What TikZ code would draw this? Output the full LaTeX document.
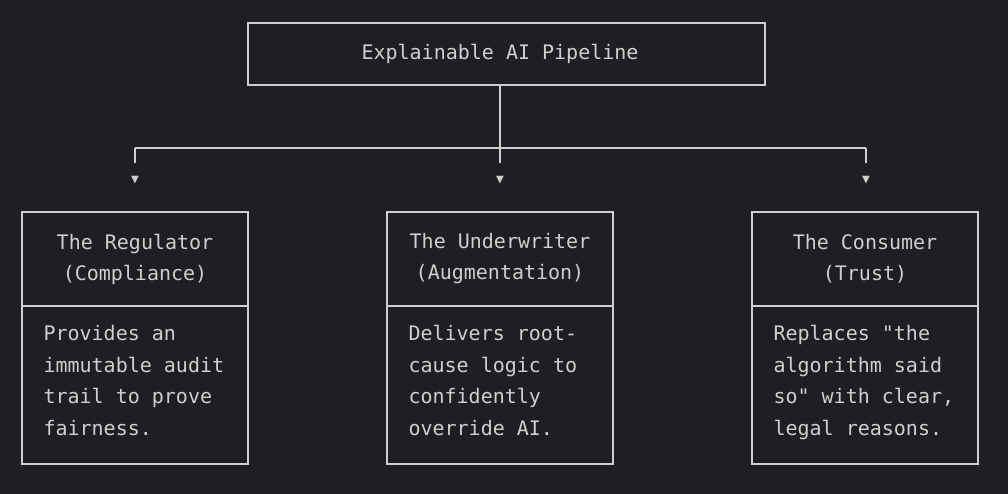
\documentclass[tikz,border=0pt]{standalone}
\usepackage{fontspec}
\setmonofont{DejaVu Sans Mono}
\definecolor{bg}{HTML}{1E1F22}
\definecolor{ink}{HTML}{CFCFCF}
\begin{document}
\begin{tikzpicture}[x=1pt, y=-1pt,
		box/.style={draw=ink, line width=1.3pt, minimum width=226pt, inner sep=0pt},
		lbl/.style={text=ink, font=\fontsize{20}{31}\ttfamily, align=center},
		body/.style={text=ink, font=\fontsize{20}{31.5}\ttfamily, align=left, anchor=north west},
		wire/.style={draw=ink, line width=1.3pt},
		tip/.style={text=ink, font=\fontsize{13}{13}\ttfamily, inner sep=0pt}]
	\fill[bg] (0, 0) rectangle (1008, 494);

	\draw[wire]	(248, 23) rectangle (765, 85);
	\node[lbl] (pipe) at (500, 54) {Explainable AI Pipeline};

	\coordinate (top) at (500, 85);
	\coordinate (mid) at (500, 148);
	\coordinate (jl) at (135, 148);
	\coordinate (jr) at (866, 148);
	\node[tip] (al) at (135, 180) {▼};
	\node[tip] (am) at (500, 180) {▼};
	\node[tip] (ar) at (866, 180) {▼};

	\draw[wire]	(top) -- (mid);
	\draw[wire]	(jl) -- (jr);
	\draw[wire]	(jl) -- ++(0, 15);
	\draw[wire]	(mid) -- ++(0, 15);
	\draw[wire]	(jr) -- ++(0, 15);

	% three boxes
	\foreach \x/\t/\d in {22/{The Regulator\\(Compliance)}/{Provides an\\immutable audit\\trail to prove\\fairness.},
			387/{The Underwriter\\(Augmentation)}/{Delivers root-\\cause logic to\\confidently\\override AI.},
			752/{The Consumer\\(Trust)}/{Replaces "the\\algorithm said\\so" with clear,\\legal reasons.}} {
		\draw[wire]	(\x, 212) rectangle ++(226, 252);
		\draw[wire]	(\x, 306) -- ++(226, 0);
		\node[lbl] at (\x+113, 259) {\t};
		\node[body] at (\x+18, 322) {\d};
	}
\end{tikzpicture}
\end{document}
